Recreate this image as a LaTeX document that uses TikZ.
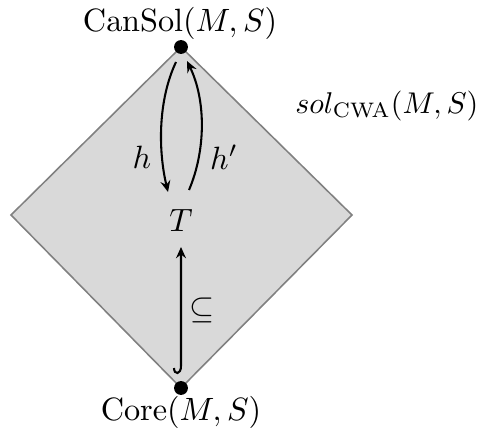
\documentclass[tikz,border=0pt]{standalone}
\usetikzlibrary{arrows.meta,calc}
\begin{document}
\begin{tikzpicture}[x=0.31pt,y=-0.31pt,
  dot/.style={circle,fill=black,inner sep=0pt,minimum size=4.3pt},
  lbl/.style={inner sep=0pt},
  tip/.style={-{Stealth[length=3.5pt,width=3.1pt,inset=1.2pt]}},
  arr/.style={line width=0.64pt,tip},
  region/.style={draw=gray,line width=0.48pt,fill=gray!30}]
\useasboundingbox (0,0) rectangle (480,437);
\coordinate (N) at (181,47);
\coordinate (E) at (352,215);
\coordinate (S) at (181,388);
\coordinate (W) at (11,215);
\draw[region] (N) -- (E) -- (S) -- (W) -- cycle;
\node[dot] (top) at (N) {};
\node[dot] (bot) at (S) {};
\node[lbl] (toplbl) at (180,23) {$\mathrm{CanSol}(M,S)$};
\node[lbl] (botlbl) at (181,412) {$\mathrm{Core}(M,S)$};
\node[lbl] (T) at (181,220) {$T$};
\node[lbl,anchor=east,scale=0.93] (sol) at (479,106) {$sol_{\mathrm{CWA}}(M,S)$};
\node[lbl] (hl) at (142,157) {$h$};
\node[lbl] (hpl) at (224,157) {$h'$};
\node[lbl] (sub) at (202,310) {$\subseteq$};
\draw[arr] ($(top)+(-5,15)$) .. controls (158,100) and (158,150) .. ($(T)+(-13,-28)$);
\draw[arr] ($(T)+(8,-30)$) .. controls (206,150) and (206,100) .. ($(top)+(6,14)$);
\draw[arr] ($(bot)+(-7,-20)$) .. controls ($(bot)+(-7,-13)$) and ($(bot)+(0,-13)$) .. ($(bot)+(0,-22)$) -- ($(T)+(0,27)$);
\end{tikzpicture}
\end{document}
